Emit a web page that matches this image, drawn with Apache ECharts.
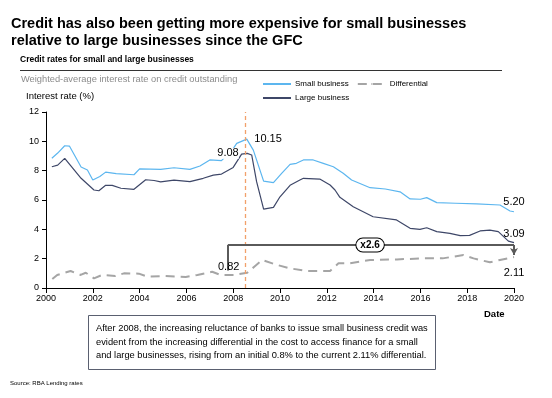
<!DOCTYPE html>
<html>
<head>
<meta charset="utf-8">
<script src="https://cdn.jsdelivr.net/npm/echarts@6/dist/echarts.min.js"></script>
<style>html,body{margin:0;padding:0;background:#fff;}#c{width:552px;height:398px;}</style>
</head>
<body>
<div id="c"></div>
<script>
// ---- data ----
const smallDates = [2000.25,2000.5,2000.8,2001.0,2001.5,2001.77,2002.0,2002.3,2002.55,2003.0,2003.76,2004.0,2004.9,2005.47,2006.15,2006.58,2007.0,2007.5,2008.0,2008.15,2008.58,2008.86,2009.3,2009.72,2010.07,2010.43,2010.7,2011.0,2011.42,2011.85,2012.28,2012.7,2013.06,2013.85,2014.5,2015.13,2015.56,2016.0,2016.27,2016.7,2017.5,2018.4,2019.4,2019.83,2020.0];
const smallRates = [8.85,9.2,9.7,9.68,8.25,8.05,7.36,7.6,7.9,7.8,7.72,8.12,8.09,8.2,8.09,8.32,8.73,8.68,9.5,9.86,10.15,9.4,7.29,7.18,7.82,8.43,8.5,8.73,8.73,8.5,8.27,7.82,7.36,6.84,6.75,6.56,6.07,6.05,6.16,5.82,5.78,5.73,5.66,5.25,5.20];
const largeDates = [2000.25,2000.5,2000.8,2001.5,2002.05,2002.26,2002.55,2002.83,2003.2,2003.76,2004.26,2004.62,2004.9,2005.47,2006.15,2006.72,2007.15,2007.5,2008.0,2008.36,2008.6,2008.79,2009.0,2009.3,2009.72,2010.0,2010.43,2010.85,2011.0,2011.7,2012.14,2012.35,2012.56,2013.13,2013.98,2014.98,2015.56,2015.98,2016.27,2016.7,2017.26,2017.7,2018.1,2018.55,2018.97,2019.33,2019.76,2020.0];
const largeRates = [8.27,8.38,8.84,7.48,6.68,6.63,7.0,7.0,6.8,6.73,7.38,7.33,7.23,7.36,7.25,7.48,7.7,7.77,8.22,9.13,9.18,9.07,7.25,5.38,5.5,6.22,7.0,7.36,7.48,7.43,7.02,6.68,6.18,5.54,4.86,4.64,4.07,4.0,4.11,3.84,3.73,3.57,3.59,3.89,3.95,3.84,3.2,3.09];
const diffDates = [2000.27,2000.48,2001.05,2001.48,2001.7,2002.05,2002.4,2002.96,2003.33,2003.97,2004.33,2005.04,2005.97,2006.47,2007.1,2007.46,2008.03,2008.6,2008.9,2009.24,2009.88,2010.43,2011.14,2012.14,2012.5,2013.0,2013.85,2015.0,2016.1,2016.95,2017.84,2018.27,2018.97,2019.4,2020.0];
const diffRates = [0.61,0.89,1.16,0.89,1.04,0.66,0.89,0.82,1.0,0.98,0.77,0.82,0.75,0.89,1.11,0.89,0.89,1.04,1.45,1.91,1.57,1.34,1.16,1.16,1.68,1.68,1.91,1.95,2.02,2.02,2.25,2.02,1.75,1.91,2.11];
const yTicks = [0,2,4,6,8,10,12];
const xTicks = [2000,2002,2004,2006,2008,2010,2012,2014,2016,2018,2020];
const seriesNames = ['Small business','Large business','Differential'];
const gfcYear = 2008.53;
const bracket = {startYear: 2007.77, startVal: 1.2, level: 2.93, endYear: 2020, endVal: 2.25, label: 'x2.6', labelYear: 2013.85};
const callouts = [
  {name:'10.15', year:2008.58, val:10.15},
  {name:'9.08', year:2008.6, val:9.18},
  {name:'0.82', year:2008.03, val:0.89},
  {name:'5.20', year:2020.0, val:5.20},
  {name:'3.09', year:2020.0, val:3.09},
  {name:'2.11', year:2020.0, val:2.11}
];

const zip = (a,b) => a.map((x,i)=>[x,b[i]]);
const FF = '"Liberation Sans", Arial, sans-serif';
const lbl = {color:'#000', fontFamily:FF, fontSize:11};
const solidIcon = 'path://M0,0 H30 V1.3 H0 Z';
const dashIcon = 'path://M0,0 H9 V2 H0 Z M14,0 H23 V2 H14 Z M27,0 H30 V2 H27 Z';

const chart = echarts.init(document.getElementById('c'), null, {renderer:'canvas'});
chart.setOption({
  backgroundColor:'#fff',
  animation:false,
  textStyle:{fontFamily:FF},
  grid:{left:46, right:38, top:112, bottom:110, containLabel:false},
  legend:[
    {data:[seriesNames[0], seriesNames[2]], left:262, top:80, padding:0, itemWidth:28, itemHeight:2, itemGap:8,
     textStyle:{fontSize:8, color:'#000', fontFamily:FF, padding:[0,0,0,-1]}, selectedMode:false},
    {data:[seriesNames[1]], left:262, top:94, padding:0, itemWidth:28, itemHeight:2,
     textStyle:{fontSize:8, color:'#000', fontFamily:FF, padding:[0,0,0,-1]}, selectedMode:false}
  ],
  xAxis:{type:'value', min:xTicks[0], max:xTicks[xTicks.length-1], interval:2,
    axisLine:{lineStyle:{color:'#000', width:1}}, axisTick:{show:true, length:5, lineStyle:{color:'#000'}},
    splitLine:{show:false},
    axisLabel:{color:'#000', fontSize:9, fontFamily:FF, margin:6, formatter:v=>String(v)}},
  yAxis:{type:'value', min:yTicks[0], max:yTicks[yTicks.length-1], interval:2,
    axisLine:{show:true, lineStyle:{color:'#000', width:1}}, axisTick:{show:true, length:4, lineStyle:{color:'#000'}},
    splitLine:{show:false},
    axisLabel:{color:'#000', fontSize:9, fontFamily:FF, margin:7}},
  title:[
    {text:'Credit has also been getting more expensive for small businesses\nrelative to large businesses since the GFC',
     left:6, top:11, textStyle:{fontSize:14.5, fontWeight:'bold', color:'#000', lineHeight:16.5, fontFamily:FF}},
    {text:'After 2008, the increasing reluctance of banks to issue small business credit was\nevident from the increasing differential in the cost to access finance for a small\nand large businesses, rising from an initial 0.8% to the current 2.11% differential.',
     left:88, top:315, padding:[7,8,7,8], borderColor:'#5a6070', borderWidth:1,
     textStyle:{fontSize:9.3, fontWeight:'normal', color:'#000', lineHeight:13.5, fontFamily:FF}}
  ],
  graphic:[
    {type:'text', left:20, top:55, style:{text:'Credit rates for small and large businesses', fontSize:8.5, fontWeight:'bold', fill:'#000', fontFamily:FF}},
    {type:'line', shape:{x1:20, y1:70.5, x2:502, y2:70.5}, style:{stroke:'#333', lineWidth:1}},
    {type:'text', left:21, top:75, style:{text:'Weighted-average interest rate on credit outstanding', fontSize:9.3, fill:'#8c8c8c', fontFamily:FF}},
    {type:'text', left:26, top:91, style:{text:'Interest rate (%)', fontSize:9.5, fontWeight:'normal', fill:'#000', fontFamily:FF}},
    {type:'text', left:484, top:309, style:{text:'Date', fontSize:9.5, fontWeight:'bold', fill:'#000', fontFamily:FF}},
    {type:'text', left:10, top:380, style:{text:'Source: RBA Lending rates', fontSize:6, fill:'#000', fontFamily:FF}}
  ],
  series:[
    {name:seriesNames[0], type:'line', data:zip(smallDates, smallRates), symbol:'none', z:3, legendIcon:solidIcon,
     lineStyle:{color:'#5cb6ef', width:1.2}, itemStyle:{color:'#5cb6ef'},
     markLine:{silent:true, symbol:['none','none'], label:{show:false},
       lineStyle:{color:'#f2a06a', type:[4,3], width:1.3},
       data:[[{coord:[gfcYear,0]},{coord:[gfcYear,12]}]]}},
    {name:seriesNames[1], type:'line', data:zip(largeDates, largeRates), symbol:'none', z:3, legendIcon:solidIcon,
     lineStyle:{color:'#3e4768', width:1.2}, itemStyle:{color:'#3e4768'}},
    {name:seriesNames[2], type:'line', data:zip(diffDates, diffRates), symbol:'none', z:2, legendIcon:dashIcon,
     lineStyle:{color:'#a5a5a5', width:2, type:[9,6]}, itemStyle:{color:'#a5a5a5'},
     markLine:{silent:true, symbol:['none','none'], label:{show:false},
       lineStyle:{color:'#5a5a5a', type:'solid', width:2},
       data:[
         [{coord:[bracket.startYear,bracket.startVal]},{coord:[bracket.startYear,bracket.level]}],
         [{coord:[bracket.startYear,bracket.level]},{coord:[bracket.endYear,bracket.level]}],
         [{coord:[bracket.endYear,bracket.level]},{coord:[bracket.endYear,bracket.endVal], symbol:'arrow', symbolSize:[6,7]}]
       ]},
     markPoint:{silent:true, symbol:'circle', symbolSize:1, itemStyle:{color:'rgba(0,0,0,0)'},
       data:[
         {coord:[bracket.labelYear,bracket.level], label:{show:true, position:'inside', formatter:bracket.label,
           color:'#000', fontSize:10, fontWeight:'bold', fontFamily:FF, backgroundColor:'#fff',
           borderColor:'#000', borderWidth:1, borderRadius:8, padding:[2,4,1,4]}},
         ...callouts.map((c,i)=>{
           const pos = [
             {position:'right', distance:7, offset:[0,0]},
             {position:'left', distance:8, offset:[0,0], backgroundColor:'#fff'},
             {position:'left', distance:-6, offset:[0,-8]},
             {position:'top', distance:4, offset:[0,0]},
             {position:'top', distance:3, offset:[0,0]},
             {position:'bottom', distance:10, offset:[0,0]}
           ][i];
           return {coord:[c.year,c.val], label:Object.assign({show:true, formatter:c.name}, lbl, pos)};
         })
       ]}}
  ]
});
</script>
</body>
</html>
